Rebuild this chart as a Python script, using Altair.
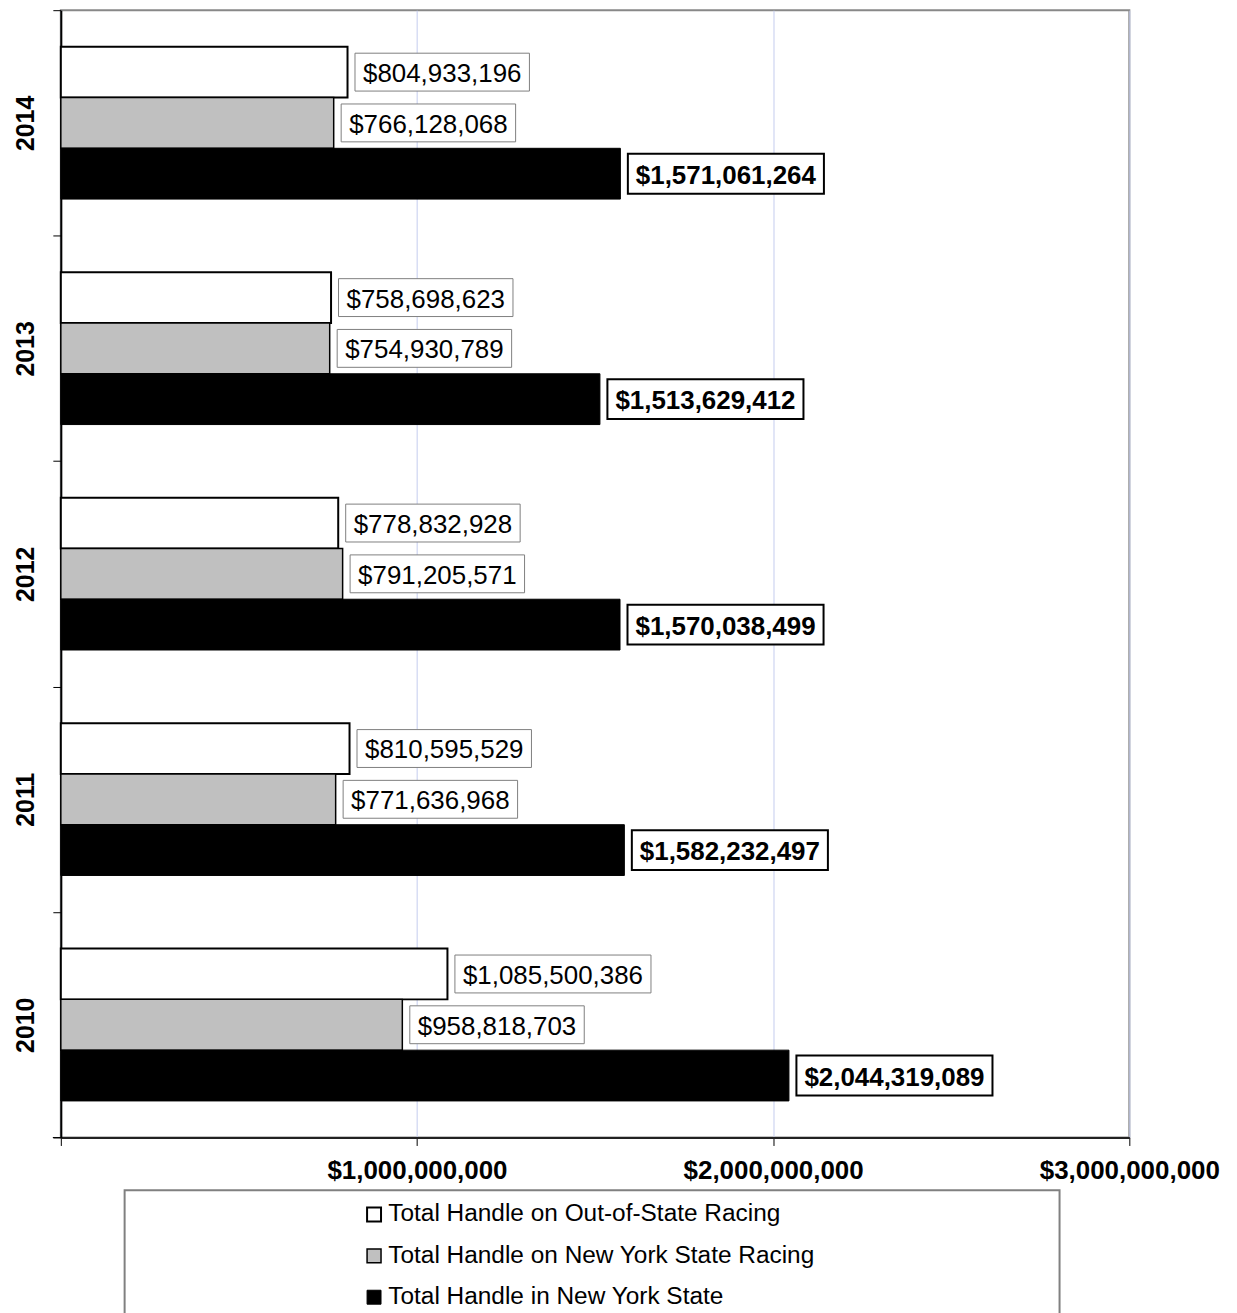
import altair as alt
import pandas as pd

years = ["2014", "2013", "2012", "2011", "2010"]
series = [
    "Total Handle on Out-of-State Racing",
    "Total Handle on New York State Racing",
    "Total Handle in New York State",
]
out_of_state = [804933196, 758698623, 778832928, 810595529, 1085500386]
ny_racing = [766128068, 754930789, 791205571, 771636968, 958818703]
total_ny = [1571061264, 1513629412, 1570038499, 1582232497, 2044319089]
colors = ["#FFFFFF", "#C0C0C0", "#000000"]

FONT = "Liberation Sans, Arial, sans-serif"
W, H = 1072, 1131
XMAX = 3e9
PX = XMAX / W  # data units per pixel
FS = 26

rows = []
for i, y in enumerate(years):
    for s, vals in zip(series, [out_of_state, ny_racing, total_ny]):
        v = vals[i]
        lab = "${:,}".format(v)
        ndig = sum(c.isdigit() for c in lab) + 1
        ncom = lab.count(",")
        tw = FS * (0.556 * ndig + 0.278 * ncom)
        x0 = v + 7.5 * PX
        x1 = x0 + (tw + 16) * PX
        rows.append(dict(year=y, series=s, value=v, label=lab,
                         bx0=x0, bx1=x1, bxm=(x0 + x1) / 2,
                         bold=(s == series[2])))
df = pd.DataFrame(rows)

yenc = alt.Y("year:N", sort=years, title=None,
             scale=alt.Scale(paddingInner=0, paddingOuter=0),
             axis=alt.Axis(tickBand="extent", labelAngle=270, labelAlign="center",
                           labelBaseline="alphabetic", labelPadding=19,
                           labelFont=FONT, labelFontSize=25, labelFontWeight="bold",
                           labelColor="black", tickSize=8, tickColor="black",
                           domainColor="black", domainWidth=2, grid=False))
yoff = alt.YOffset("series:N", sort=series,
                   scale=alt.Scale(domain=series, paddingOuter=0.72, paddingInner=0))

base = alt.Chart(df)

bars = base.mark_bar(stroke="black").encode(
    x=alt.X("value:Q", title=None,
            scale=alt.Scale(domain=[0, XMAX], nice=False),
            axis=alt.Axis(values=[0, 1e9, 2e9, 3e9],
                          labelExpr="datum.value == 0 ? '' : '$' + format(datum.value, ',')",
                          labelFont=FONT, labelFontSize=FS, labelFontWeight="bold",
                          labelColor="black", labelPadding=12, tickSize=8,
                          labelFlush=False, labelOverlap=False, labelLimit=0,
                          tickColor="black", domainColor="#222222", domainWidth=2,
                          grid=True, gridColor="#c4ccee", gridWidth=1)),
    y=yenc,
    yOffset=yoff,
    fill=alt.Fill("series:N", sort=series,
                  scale=alt.Scale(domain=series, range=colors),
                  legend=alt.Legend(title=None, orient="none", legendX=302, legendY=1196,
                                    symbolType="square", symbolSize=196,
                                    symbolStrokeColor="black", symbolStrokeWidth=1.5,
                                    labelFont=FONT, labelFontSize=24.5, labelColor="black",
                                    labelOffset=2, rowPadding=16.5, labelLimit=0,
                                    padding=0)),
    strokeWidth=alt.StrokeWidth("series:N",
                                scale=alt.Scale(domain=series, range=[2, 1, 1]),
                                legend=None),
)

reg = df[~df["bold"]]
bld = df[df["bold"]]

box_reg = alt.Chart(reg).mark_bar(height=38, fill="white", stroke="#808080",
                                  strokeWidth=1).encode(
    x="bx0:Q", x2="bx1:Q", y=alt.Y("year:N", sort=years), yOffset=yoff)
box_bld = alt.Chart(bld).mark_bar(height=40, fill="white", stroke="black",
                                  strokeWidth=2).encode(
    x="bx0:Q", x2="bx1:Q", y=alt.Y("year:N", sort=years), yOffset=yoff)

txt_reg = alt.Chart(reg).mark_text(font=FONT, fontSize=FS, color="black",
                                   align="center", baseline="middle", dy=2).encode(
    x="bxm:Q", y=alt.Y("year:N", sort=years), yOffset=yoff, text="label:N")
txt_bld = alt.Chart(bld).mark_text(font=FONT, fontSize=FS, fontWeight="bold",
                                   color="black", align="center", baseline="middle",
                                   dy=2).encode(
    x="bxm:Q", y=alt.Y("year:N", sort=years), yOffset=yoff, text="label:N")

legend_box = alt.Chart(pd.DataFrame({"k": [0]})).mark_rect(
    fill="white", stroke="#808080", strokeWidth=2).encode(
    x=alt.value(64), x2=alt.value(1002), y=alt.value(1184), y2=alt.value(1330))

bottom_tick = alt.Chart(pd.DataFrame({"k": [0]})).mark_rule(
    color="black", strokeWidth=1).encode(
    x=alt.value(-8), x2=alt.value(0), y=alt.value(H))

chart = alt.layer(legend_box, bars, box_reg, box_bld, txt_reg, txt_bld, bottom_tick).properties(
    width=W, height=H,
    autosize=alt.AutoSizeParams(type="none"),
    padding={"left": 53, "top": 0, "right": 100, "bottom": 209},
    background="white",
).configure_view(stroke="#888888", strokeWidth=2)

chart.save("out.html", embed_options={"renderer": "svg", "actions": False})
